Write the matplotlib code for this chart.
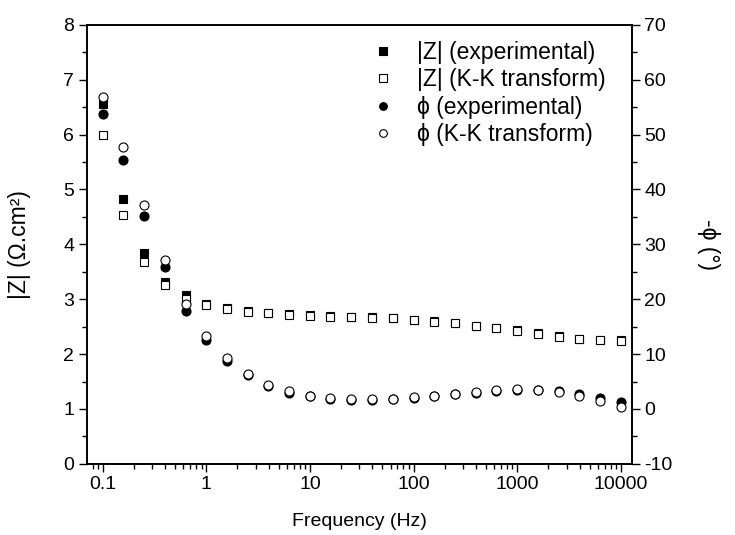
import matplotlib
matplotlib.use("Agg")
import matplotlib.pyplot as plt
from matplotlib.ticker import MultipleLocator, FixedLocator, NullFormatter

plt.rcParams["font.family"] = ["Liberation Sans", "DejaVu Sans"]
plt.rcParams["axes.unicode_minus"] = False

# frequencies (Hz), 5 points per decade
freq = [0.1, 0.158, 0.251, 0.398, 0.631, 1, 1.58, 2.51, 3.98, 6.31,
        10, 15.8, 25.1, 39.8, 63.1, 100, 158, 251, 398, 631,
        1000, 1580, 2510, 3980, 6310, 10000]

# |Z| (ohm.cm2)
z_exp = [6.56, 4.83, 3.84, 3.31, 3.08, 2.92, 2.84, 2.78, 2.75, 2.73,
         2.71, 2.69, 2.68, 2.67, 2.66, 2.63, 2.60, 2.57, 2.52, 2.48,
         2.43, 2.38, 2.33, 2.28, 2.26, 2.26]
z_kk = [5.99, 4.54, 3.68, 3.25, 3.01, 2.89, 2.82, 2.76, 2.74, 2.72,
        2.70, 2.68, 2.67, 2.66, 2.65, 2.62, 2.59, 2.56, 2.51, 2.47,
        2.42, 2.37, 2.32, 2.27, 2.25, 2.24]

# -phase (deg)
phi_exp = [53.7, 45.4, 35.2, 25.8, 17.9, 12.6, 8.8, 6.2, 4.2, 3.0,
           2.3, 1.9, 1.7, 1.7, 1.8, 2.0, 2.3, 2.7, 3.0, 3.3,
           3.5, 3.4, 3.2, 2.8, 2.0, 1.2]
phi_kk = [56.9, 47.8, 37.2, 27.2, 19.1, 13.3, 9.3, 6.4, 4.4, 3.2,
          2.4, 2.0, 1.8, 1.8, 1.9, 2.1, 2.4, 2.8, 3.1, 3.4,
          3.6, 3.4, 3.1, 2.4, 1.5, 0.4]

fig = plt.figure(figsize=(7.35, 5.35), dpi=100)
ax = fig.add_axes([0.118, 0.133, 0.7415, 0.8206])
ax2 = ax.twinx()

ms_sq, ms_ci, mew = 6, 6.5, 0.8
h1, = ax.plot(freq, z_exp, "s", color="black", ms=ms_sq, mew=mew, ls="none",
              label="|Z| (experimental)")
h2, = ax.plot(freq, z_kk, "s", mfc="white", mec="black", ms=ms_sq, mew=mew, ls="none",
              label="|Z| (K-K transform)")
h3, = ax2.plot(freq, phi_exp, "o", color="black", ms=ms_ci, mew=mew, ls="none",
               label="\u03d5 (experimental)")
h4, = ax2.plot(freq, phi_kk, "o", mfc="white", mec="black", ms=ms_ci, mew=mew, ls="none",
               label="\u03d5 (K-K transform)")

ax.set_xscale("log")
ax.set_xlim(0.0702, 12760)
ax.set_ylim(0, 8)
ax2.set_ylim(-10, 70)

ax.set_xticks([0.1, 1, 10, 100, 1000, 10000])
ax.set_xticklabels(["0.1", "1", "10", "100", "1000", "10000"])
ax.xaxis.set_minor_locator(FixedLocator(
    [m * 10.0 ** e for e in range(-2, 5) for m in range(2, 10)]))
ax.xaxis.set_minor_formatter(NullFormatter())
ax.yaxis.set_major_locator(MultipleLocator(1))
ax.yaxis.set_minor_locator(MultipleLocator(0.5))
ax2.yaxis.set_major_locator(MultipleLocator(10))
ax2.yaxis.set_minor_locator(MultipleLocator(5))

for a in (ax, ax2):
    for s in a.spines.values():
        s.set_linewidth(1.2)
    a.tick_params(which="major", direction="out", length=6, width=1.0, labelsize=14, pad=3)
    a.tick_params(which="minor", direction="out", length=3.5, width=1.0)
ax.tick_params(axis="both", top=False, right=False)
ax.tick_params(axis="both", which="minor", top=False, right=False)

ax.set_xlabel("Frequency (Hz)", fontsize=14)
ax.xaxis.set_label_coords(0.5, -0.112)
ax.set_ylabel("|Z| (\u03a9.cm\u00b2)", fontsize=16.5)
ax.yaxis.set_label_coords(-0.102, 0.5)
ax2.set_ylabel("-\u03d5 (\u00b0)", fontsize=16.5, rotation=270, va="center")
ax2.yaxis.set_label_coords(1.14, 0.5)

ax2.legend(handles=[h1, h2, h3, h4], loc="upper left", bbox_to_anchor=(0.505, 0.985),
           frameon=False, fontsize=16.5, handlelength=1.0, handletextpad=1.0,
           labelspacing=0.2, markerscale=0.85, borderaxespad=0)

fig.savefig("out.png", dpi=100)
